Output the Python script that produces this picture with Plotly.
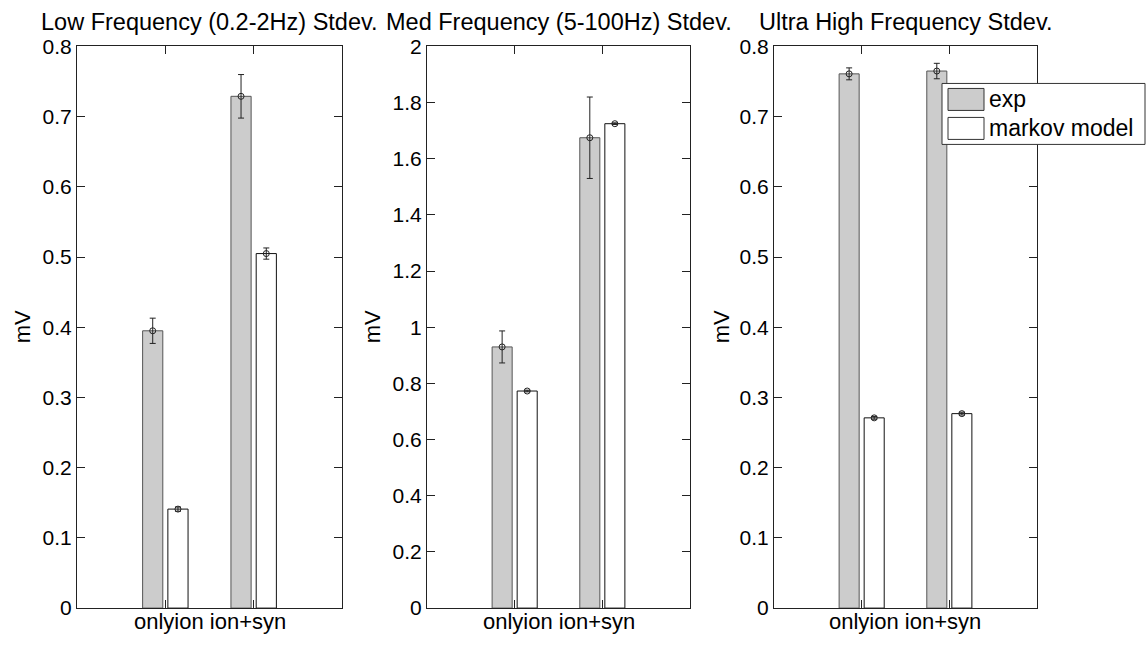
import plotly.graph_objects as go

# ---------------- data ----------------
categories = ["onlyion", "ion+syn"]
series_names = ["exp", "markov model"]
panel_titles = ["Low Frequency (0.2-2Hz) Stdev.",
                "Med Frequency (5-100Hz) Stdev.",
                "Ultra High Frequency Stdev."]
y_label = "mV"

low_exp = [0.395, 0.729]
low_exp_err = [0.018, 0.031]
low_markov = [0.141, 0.505]
low_markov_err = [0.003, 0.008]

med_exp = [0.930, 1.675]
med_exp_err = [0.057, 0.145]
med_markov = [0.773, 1.725]
med_markov_err = [0.003, 0.003]

uhf_exp = [0.761, 0.765]
uhf_exp_err = [0.0085, 0.011]
uhf_markov = [0.271, 0.277]
uhf_markov_err = [0.002, 0.002]

y_max = [0.8, 2.0, 0.8]
y_step = [0.1, 0.2, 0.1]

# ---------------- layout helpers ----------------
W, H = 1146, 645
# vertical correction measured from the rendered picture
VS, VO = 0.965, 11.5


def px(x):
    return x / W


def py(y):
    yy = (y - VO) / VS
    return 1 - yy / H


FONT = "Liberation Sans, Arial, Helvetica, sans-serif"
AX = "#222222"
domains_px = [(77, 342), (427, 690), (774, 1037)]
ylabel_px = [22, 372, 721]
y_top, y_bot = 46, 608
ydom = [py(y_bot), py(y_top)]

series_colors = ["#cccccc", "#ffffff"]
series_edges = ["#555555", "#111111"]
bar_w = 0.2286
centers = [-0.1429, 0.1429]

panels = [
    ([low_exp, low_markov], [low_exp_err, low_markov_err]),
    ([med_exp, med_markov], [med_exp_err, med_markov_err]),
    ([uhf_exp, uhf_markov], [uhf_exp_err, uhf_markov_err]),
]

xpos = [i + 1 for i in range(len(categories))]

fig = go.Figure()
layout = dict(
    width=W, height=H,
    margin=dict(l=0, r=0, t=0, b=0),
    paper_bgcolor="white", plot_bgcolor="white",
    showlegend=False,
    font=dict(family=FONT, color="black"),
    bargap=0,
)
annotations = []
shapes = []

for i, (vals, errs) in enumerate(panels):
    xa = "x" if i == 0 else f"x{i+1}"
    ya = "y" if i == 0 else f"y{i+1}"
    xkey = "xaxis" if i == 0 else f"xaxis{i+1}"
    ykey = "yaxis" if i == 0 else f"yaxis{i+1}"
    x0, x1 = domains_px[i]
    layout[xkey] = dict(
        domain=[px(x0), px(x1)], anchor=ya,
        range=[0, len(categories) + 1],
        tickvals=xpos, showticklabels=False,
        ticks="inside", ticklen=8, tickcolor=AX,
        showline=True, linecolor=AX, linewidth=1, mirror="ticks",
        showgrid=False, zeroline=False, fixedrange=True,
    )
    layout[ykey] = dict(
        domain=ydom, anchor=xa,
        range=[0, y_max[i]], dtick=y_step[i], tick0=0,
        ticks="inside", ticklen=8, tickcolor=AX,
        tickfont=dict(size=21, family=FONT, color="black"),
        showline=True, linecolor=AX, linewidth=1, mirror="ticks",
        showgrid=False, zeroline=False, fixedrange=True,
    )
    for s in range(len(series_names)):
        fig.add_trace(go.Bar(
            x=xpos, y=vals[s], name=series_names[s],
            width=bar_w, offset=centers[s] - bar_w / 2,
            marker=dict(color=series_colors[s],
                        line=dict(color=series_edges[s], width=1)),
            xaxis=xa, yaxis=ya, showlegend=False,
        ))
    for s in range(len(series_names)):
        fig.add_trace(go.Scatter(
            x=[p + centers[s] for p in xpos], y=vals[s],
            mode="markers",
            marker=dict(symbol="circle-open", size=6, color="#222222",
                        line=dict(width=1, color="#222222")),
            error_y=dict(type="data", array=errs[s], visible=True,
                         color="#222222", thickness=1, width=3),
            xaxis=xa, yaxis=ya, showlegend=False, hoverinfo="skip",
        ))
    cx = px((x0 + x1) / 2)
    annotations.append(dict(
        text=panel_titles[i], x=cx, y=py(22), xref="paper", yref="paper",
        xanchor="center", yanchor="middle", showarrow=False,
        font=dict(size=23.5, family=FONT, color="black"),
    ))
    annotations.append(dict(
        text=" ".join(categories), x=cx, y=1 - 632.5 / H, xref="paper", yref="paper",
        xanchor="center", yanchor="middle", showarrow=False,
        font=dict(size=22, family=FONT, color="black"),
    ))
    annotations.append(dict(
        text=y_label, x=px(ylabel_px[i]), y=py((y_top + y_bot) / 2),
        xref="paper", yref="paper", xanchor="center", yanchor="middle",
        textangle=-90, showarrow=False,
        font=dict(size=22, family=FONT, color="black"),
    ))

# ---------------- MATLAB-style legend box ----------------
shapes.append(dict(type="rect", xref="paper", yref="paper",
                   x0=px(942), x1=px(1145), y0=py(144), y1=py(83),
                   line=dict(color="#333333", width=1), fillcolor="white", layer="above"))
leg_rows = [(88, 110), (117, 139)]
for s, (t, b) in enumerate(leg_rows):
    shapes.append(dict(type="rect", xref="paper", yref="paper",
                       x0=px(948), x1=px(984), y0=py(b), y1=py(t),
                       line=dict(color="#333333", width=1),
                       fillcolor=series_colors[s], layer="above"))
    annotations.append(dict(
        text=series_names[s], x=px(987), y=py((t + b) / 2),
        xref="paper", yref="paper", xanchor="left", yanchor="middle",
        showarrow=False, font=dict(size=23, family=FONT, color="black"),
    ))

layout["annotations"] = annotations
layout["shapes"] = shapes
fig.update_layout(**layout)

# pin the figure to the page's top-left corner so the page is exactly W x H
pin_js = (
    "document.documentElement.style.margin='0';"
    "document.body.style.margin='0';"
    "document.body.style.overflow='hidden';"
    "var d=document.getElementById('{plot_id}');"
    "d.style.position='absolute';d.style.left='0px';d.style.top='0px';"
)
fig.write_html("out.html", post_script=pin_js,
               config={"displayModeBar": False, "staticPlot": True})
